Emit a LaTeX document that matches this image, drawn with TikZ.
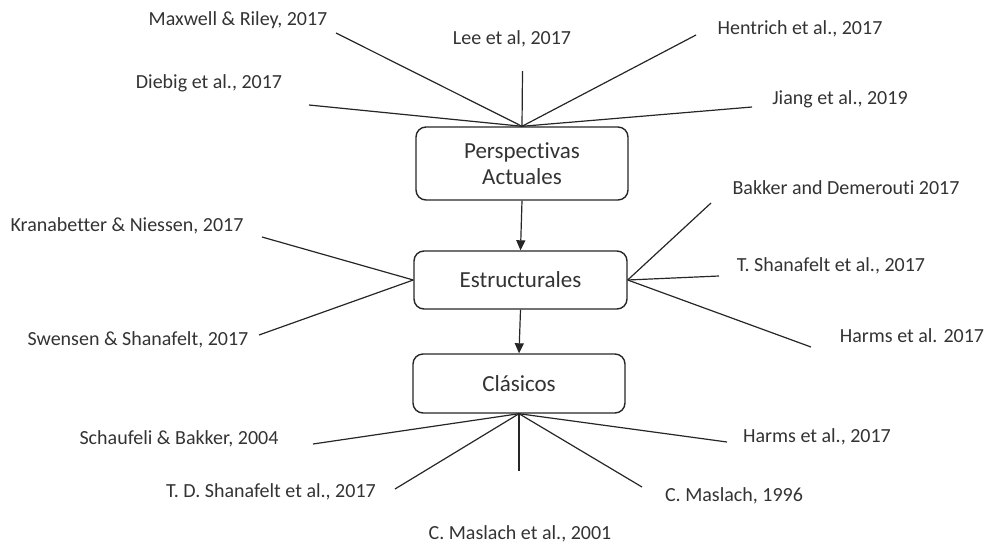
\documentclass[tikz,border=0pt]{standalone}
\usepackage{fontspec}
\setmainfont{Carlito}[Ligatures={NoCommon}]
\usetikzlibrary{arrows.meta}
\begin{document}
\begin{tikzpicture}[x=1pt,y=-1pt,
  box/.style={draw=black!85, line width=1.4pt, rounded corners=10pt, align=center, font=\fontsize{23}{26}\selectfont, text=black!80, inner sep=0pt},
  lbl/.style={font=\fontsize{20}{24}\selectfont, text=black!80, inner sep=0pt, anchor=center},
  spoke/.style={draw=black!85, line width=1.2pt},
  flow/.style={draw=black!85, line width=1.2pt, -{Triangle[width=9pt,length=10pt]}}]
\useasboundingbox (0,0) rectangle (985,544);
% boxes
\node[box, minimum width=212pt, minimum height=73pt] (pa) at (522,163.5) {Perspectivas\\Actuales};
\node[box, minimum width=213pt, minimum height=58pt] (es) at (520.5,280) {Estructurales};
\node[box, minimum width=212pt, minimum height=59pt] (cl) at (519,383.5) {Clásicos};
\draw[flow] (pa.south) -- (es.north);
\draw[flow] (es.south) -- (cl.north);
% top spokes
\coordinate (e1) at (336,33);
\coordinate (e2) at (522.5,71);
\coordinate (e3) at (696,35);
\coordinate (e4) at (309,105);
\coordinate (e5) at (752,107);
\foreach \e in {e1,e2,e3,e4,e5} \draw[spoke] (pa.north) -- (\e);
\node[lbl] (t1) at (238,20) {Maxwell \& Riley, 2017};
\node[lbl] (t2) at (512,39) {Lee et al, 2017};
\node[lbl] (t3) at (800,29) {Hentrich et al., 2017};
\node[lbl] (t4) at (209,83) {Diebig et al., 2017};
\node[lbl] (t5) at (840,99) {Jiang et al., 2019};
% middle spokes
\coordinate (m1) at (262,237);
\coordinate (m2) at (259,335);
\coordinate (m3) at (711,203);
\coordinate (m4) at (719,276);
\coordinate (m5) at (811,347);
\draw[spoke] (es.west) -- (m1);
\draw[spoke] (es.west) -- (m2);
\draw[spoke] (es.east) -- (m3);
\draw[spoke] (es.east) -- (m4);
\draw[spoke] (es.east) -- (m5);
\node[lbl] (u1) at (127,226) {Kranabetter \& Niessen, 2017};
\node[lbl] (u2) at (138,340) {Swensen \& Shanafelt, 2017};
\node[lbl] (u3) at (846,188) {Bakker and Demerouti 2017};
\node[lbl] (u4) at (831,266) {T. Shanafelt et al., 2017};
\node[lbl] (u5) at (912,336) {Harms et al. 2017};
% bottom spokes
\coordinate (b1) at (313,444);
\coordinate (b2) at (395,489);
\coordinate (b3) at (519,471);
\coordinate (b4) at (642,487);
\coordinate (b5) at (727,442);
\foreach \e in {b1,b2,b3,b4,b5} \draw[spoke] (cl.south) -- (\e);
\node[lbl] (v1) at (179,439) {Schaufeli \& Bakker, 2004};
\node[lbl] (v2) at (271,492) {T. D. Shanafelt et al., 2017};
\node[lbl] (v3) at (520,534) {C. Maslach et al., 2001};
\node[lbl] (v4) at (734,496) {C. Maslach, 1996};
\node[lbl] (v5) at (817,437) {Harms et al., 2017};
\end{tikzpicture}
\end{document}
